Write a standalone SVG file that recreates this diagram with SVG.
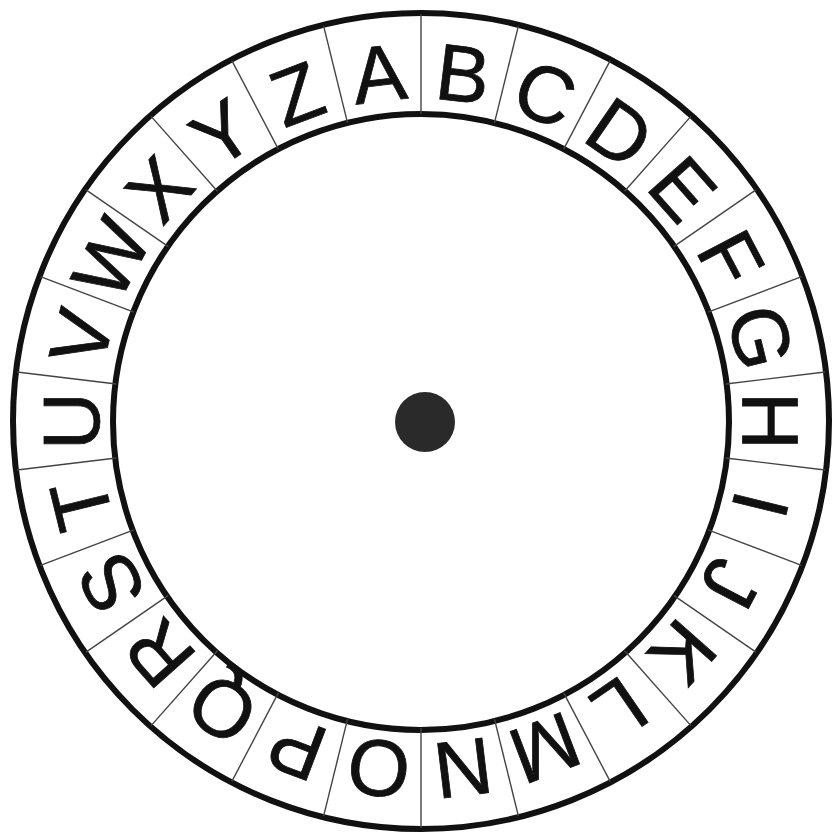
<svg xmlns="http://www.w3.org/2000/svg" width="834" height="834" viewBox="0 0 834 834">
<style>
.ring{fill:none;stroke:#111;stroke-width:6}
.div{stroke:#444;stroke-width:1.4}
.lt{font-family:"Liberation Sans",Arial,sans-serif;font-size:80px;fill:#111;stroke:#111;stroke-width:0.8;text-anchor:middle}
</style>
<rect width="834" height="834" fill="#fff"/>
<g id="rings">
<circle class="ring" cx="421" cy="421" r="408"/>
<circle class="ring" cx="421" cy="422" r="308"/>
</g>
<g id="dividers">
<line class="div" x1="421" y1="14" x2="421" y2="114" transform="rotate(0 421 421)"/>
<line class="div" x1="421" y1="14" x2="421" y2="114" transform="rotate(13.846 421 421)"/>
<line class="div" x1="421" y1="14" x2="421" y2="114" transform="rotate(27.692 421 421)"/>
<line class="div" x1="421" y1="14" x2="421" y2="114" transform="rotate(41.538 421 421)"/>
<line class="div" x1="421" y1="14" x2="421" y2="114" transform="rotate(55.385 421 421)"/>
<line class="div" x1="421" y1="14" x2="421" y2="114" transform="rotate(69.231 421 421)"/>
<line class="div" x1="421" y1="14" x2="421" y2="114" transform="rotate(83.077 421 421)"/>
<line class="div" x1="421" y1="14" x2="421" y2="114" transform="rotate(96.923 421 421)"/>
<line class="div" x1="421" y1="14" x2="421" y2="114" transform="rotate(110.769 421 421)"/>
<line class="div" x1="421" y1="14" x2="421" y2="114" transform="rotate(124.615 421 421)"/>
<line class="div" x1="421" y1="14" x2="421" y2="114" transform="rotate(138.462 421 421)"/>
<line class="div" x1="421" y1="14" x2="421" y2="114" transform="rotate(152.308 421 421)"/>
<line class="div" x1="421" y1="14" x2="421" y2="114" transform="rotate(166.154 421 421)"/>
<line class="div" x1="421" y1="14" x2="421" y2="114" transform="rotate(180 421 421)"/>
<line class="div" x1="421" y1="14" x2="421" y2="114" transform="rotate(193.846 421 421)"/>
<line class="div" x1="421" y1="14" x2="421" y2="114" transform="rotate(207.692 421 421)"/>
<line class="div" x1="421" y1="14" x2="421" y2="114" transform="rotate(221.538 421 421)"/>
<line class="div" x1="421" y1="14" x2="421" y2="114" transform="rotate(235.385 421 421)"/>
<line class="div" x1="421" y1="14" x2="421" y2="114" transform="rotate(249.231 421 421)"/>
<line class="div" x1="421" y1="14" x2="421" y2="114" transform="rotate(263.077 421 421)"/>
<line class="div" x1="421" y1="14" x2="421" y2="114" transform="rotate(276.923 421 421)"/>
<line class="div" x1="421" y1="14" x2="421" y2="114" transform="rotate(290.769 421 421)"/>
<line class="div" x1="421" y1="14" x2="421" y2="114" transform="rotate(304.615 421 421)"/>
<line class="div" x1="421" y1="14" x2="421" y2="114" transform="rotate(318.462 421 421)"/>
<line class="div" x1="421" y1="14" x2="421" y2="114" transform="rotate(332.308 421 421)"/>
<line class="div" x1="421" y1="14" x2="421" y2="114" transform="rotate(346.154 421 421)"/>
</g>
<g id="letter-A"><text class="lt" x="421" y="99" transform="rotate(-6.923 421 421)">A</text></g>
<g id="letter-B"><text class="lt" x="421" y="99" transform="rotate(6.923 421 421)">B</text></g>
<g id="letter-C"><text class="lt" x="421" y="99" transform="rotate(20.769 421 421)">C</text></g>
<g id="letter-D"><text class="lt" x="421" y="99" transform="rotate(34.615 421 421)">D</text></g>
<g id="letter-E"><text class="lt" x="421" y="99" transform="rotate(48.462 421 421)">E</text></g>
<g id="letter-F"><text class="lt" x="421" y="99" transform="rotate(62.308 421 421)">F</text></g>
<g id="letter-G"><text class="lt" x="421" y="99" transform="rotate(76.154 421 421)">G</text></g>
<g id="letter-H"><text class="lt" x="421" y="99" transform="rotate(90 421 421)">H</text></g>
<g id="letter-I"><text class="lt" x="421" y="99" transform="rotate(103.846 421 421)">I</text></g>
<g id="letter-J"><text class="lt" x="421" y="99" transform="rotate(117.692 421 421)">J</text></g>
<g id="letter-K"><text class="lt" x="421" y="99" transform="rotate(131.538 421 421)">K</text></g>
<g id="letter-L"><text class="lt" x="421" y="99" transform="rotate(145.385 421 421)">L</text></g>
<g id="letter-M"><text class="lt" x="421" y="99" transform="rotate(159.231 421 421)">M</text></g>
<g id="letter-N"><text class="lt" x="421" y="99" transform="rotate(173.077 421 421)">N</text></g>
<g id="letter-O"><text class="lt" x="421" y="99" transform="rotate(186.923 421 421)">O</text></g>
<g id="letter-P"><text class="lt" x="421" y="99" transform="rotate(200.769 421 421)">P</text></g>
<g id="letter-Q"><text class="lt" x="421" y="99" transform="rotate(214.615 421 421)">Q</text></g>
<g id="letter-R"><text class="lt" x="421" y="99" transform="rotate(228.462 421 421)">R</text></g>
<g id="letter-S"><text class="lt" x="421" y="99" transform="rotate(242.308 421 421)">S</text></g>
<g id="letter-T"><text class="lt" x="421" y="99" transform="rotate(256.154 421 421)">T</text></g>
<g id="letter-U"><text class="lt" x="421" y="99" transform="rotate(270 421 421)">U</text></g>
<g id="letter-V"><text class="lt" x="421" y="99" transform="rotate(283.846 421 421)">V</text></g>
<g id="letter-W"><text class="lt" x="421" y="99" transform="rotate(297.692 421 421)">W</text></g>
<g id="letter-X"><text class="lt" x="421" y="99" transform="rotate(311.538 421 421)">X</text></g>
<g id="letter-Y"><text class="lt" x="421" y="99" transform="rotate(325.385 421 421)">Y</text></g>
<g id="letter-Z"><text class="lt" x="421" y="99" transform="rotate(339.231 421 421)">Z</text></g>
<g id="center"><circle cx="425" cy="422" r="30" fill="#2a2a2a"/></g>
</svg>
